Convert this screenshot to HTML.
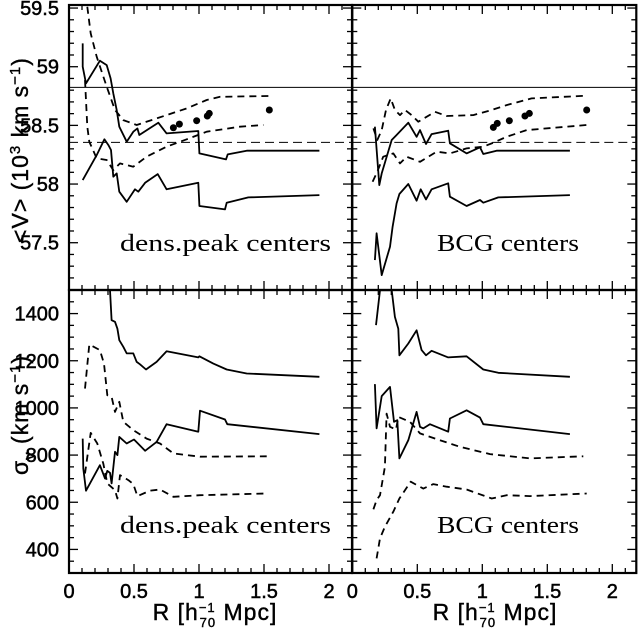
<!DOCTYPE html>
<html><head><meta charset="utf-8"><style>
body{margin:0;background:#fff}
svg{display:block;font-family:"Liberation Sans",sans-serif}
</style></head><body>
<svg id="c" width="638" height="633" viewBox="0 0 638 633"></svg>
<script>
// x positions (R) and values per series
const tlS1R=[0.105,0.105,0.131,0.238,0.29,0.32,0.341,0.367,0.387,0.444,0.495,0.526,0.541,0.687,0.751,0.995,1.003,1.208,1.221,1.367,1.926];
const tlS1V=[59.199,59.0,58.858,59.051,59.014,58.90,58.773,58.63,58.489,58.361,58.446,58.474,58.418,58.523,58.432,58.452,58.261,58.21,58.253,58.284,58.284];
const tlS2R=[0.105,0.213,0.272,0.303,0.323,0.341,0.367,0.387,0.444,0.508,0.533,0.585,0.682,0.751,0.995,1.003,1.2,1.213,1.379,1.926];
const tlS2V=[58.034,58.247,58.381,58.332,58.29,58.063,58.091,57.935,57.849,57.955,57.935,58.011,58.085,57.955,58.011,57.813,57.784,57.841,57.886,57.906];
const tlD1R=[0.141,0.167,0.213,0.29,0.354,0.418,0.521,0.751,0.905,1.059,1.162,1.546];
const tlD1V=[59.511,59.284,59.085,58.83,58.631,58.545,58.503,58.588,58.645,58.716,58.744,58.75];
const tlD2R=[0.123,0.141,0.156,0.213,0.29,0.341,0.392,0.495,0.597,0.751,0.905,1.059,1.315,1.495];
const tlD2V=[58.886,58.489,58.361,58.219,58.205,58.119,58.176,58.148,58.233,58.318,58.381,58.446,58.489,58.503];
const tlPtR=[0.803,0.849,0.982,1.064,1.079,1.541];
const tlPtV=[58.48,58.511,58.54,58.58,58.602,58.631];

const trS1R=[0.174,0.208,0.226,0.303,0.341,0.431,0.495,0.521,0.567,0.61,0.738,0.751,0.879,0.982,1.008,1.11,1.674];
const trS1V=[58.489,57.991,58.091,58.375,58.418,58.523,58.403,58.46,58.341,58.426,58.455,58.347,58.261,58.313,58.256,58.284,58.284];
const trS2R=[0.174,0.187,0.226,0.29,0.31,0.328,0.341,0.362,0.431,0.495,0.526,0.567,0.61,0.738,0.751,0.879,0.982,1.008,1.123,1.674];
const trS2V=[57.352,57.58,57.224,57.466,57.636,57.75,57.835,57.915,58.0,57.858,57.955,57.869,57.955,58.006,57.892,57.813,57.864,57.841,57.886,57.906];
const trD1R=[0.162,0.192,0.226,0.259,0.295,0.328,0.367,0.405,0.456,0.508,0.636,0.726,0.931,1.072,1.187,1.379,1.803];
const trD1V=[58.474,58.375,58.46,58.631,58.73,58.631,58.588,58.631,58.588,58.531,58.616,58.58,58.588,58.631,58.673,58.73,58.753];
const trD2R=[0.156,0.192,0.238,0.315,0.367,0.418,0.521,0.649,0.751,0.879,1.008,1.085,1.187,1.341,1.803];
const trD2V=[58.02,58.105,58.233,58.261,58.176,58.233,58.19,58.276,58.261,58.304,58.318,58.352,58.403,58.46,58.503];
const trPtR=[1.085,1.115,1.208,1.328,1.362,1.803];
const trPtV=[58.483,58.517,58.54,58.58,58.602,58.631];

const blS1R=[0.315,0.328,0.354,0.372,0.387,0.418,0.444,0.495,0.521,0.546,0.592,0.674,0.751,0.995,1.003,1.11,1.213,1.367,1.926];
const blS1V=[1499,1372,1365,1336,1287,1259,1231,1231,1195,1185,1163,1195,1240,1214,1219,1188,1163,1146,1132];
const blS2R=[0.105,0.11,0.131,0.238,0.277,0.295,0.315,0.328,0.354,0.372,0.387,0.444,0.5,0.585,0.674,0.751,0.995,1.008,1.2,1.218,1.926];
const blS2V=[870,743,649,757,701,733,725,680,814,800,877,849,866,818,856,931,899,988,951,931,889];
const blD1R=[0.123,0.156,0.238,0.269,0.295,0.328,0.354,0.387,0.418,0.495,0.597,0.7,0.803,1.008,1.521];
const blD1V=[1082,1269,1245,1188,1054,1047,983,1026,941,906,870,849,807,793,795];
const blD2R=[0.123,0.167,0.218,0.264,0.295,0.354,0.372,0.392,0.456,0.495,0.526,0.623,0.7,0.803,1.008,1.521];
const blD2V=[722,894,849,764,680,651,616,715,694,677,626,649,654,623,630,637];

const brS1R=[0.182,0.213,0.303,0.328,0.354,0.362,0.431,0.495,0.533,0.567,0.61,0.738,0.879,1.008,1.123,1.674];
const brS1V=[1351,1499,1499,1386,1336,1223,1273,1329,1245,1223,1242,1214,1219,1163,1149,1132];
const brS2R=[0.174,0.187,0.226,0.29,0.321,0.346,0.354,0.362,0.431,0.495,0.521,0.546,0.597,0.738,0.751,0.879,0.982,1.008,1.674];
const brS2V=[1101,913,1050,1089,941,948,870,786,863,983,920,913,931,899,955,990,959,931,889];
const brD1R=[0.162,0.187,0.213,0.251,0.264,0.29,0.336,0.354,0.444,0.521,0.674,0.828,1.059,1.367,1.777];
const brD1V=[570,609,630,750,976,920,908,962,941,892,863,835,804,786,795];
const brD2R=[0.187,0.213,0.251,0.315,0.362,0.449,0.546,0.623,0.726,0.879,1.072,1.187,1.367,1.803];
const brD2V=[362,447,496,560,616,687,658,677,666,654,616,630,626,637];

const topTicks=["57.5","58","58.5","59","59.5"];
const botTicks=["400","600","800","1000","1200","1400"];
const xTicks=["0","0.5","1","1.5","2"];
const meanSolid=58.824, meanDashed=58.355;

const NS="http://www.w3.org/2000/svg";
const svg=document.getElementById('c');
function mk(tag,attrs,parent){const e=document.createElementNS(NS,tag);for(const k in attrs)e.setAttribute(k,attrs[k]);(parent||svg).appendChild(e);return e;}

const X0=[69,352.3], XS=130, PW=[283,284];
const TOP={y0:5,y1:290,vmin:57.097,vmax:59.526};
const BOT={y0:290,y1:573,vmin:300,vmax:1500};
function xs(p,r){return X0[p]+r*XS;}
function ys(P,v){return P.y1-(v-P.vmin)/(P.vmax-P.vmin)*(P.y1-P.y0);}

function panel(p,P,name){
  const g=mk('g',{});
  
  
  const cp=mk('clipPath',{id:'cp'+name},g);
  mk('rect',{x:X0[p],y:P.y0,width:PW[p],height:P.y1-P.y0},cp);
  return g;
}
function line(g,P,p,R,V,dash,name,clip){
  let d='';R.forEach((r,i)=>{d+=(i?'L':'M')+xs(p,r).toFixed(1)+','+ys(P,V[i]).toFixed(1);});
  const a={d:d,fill:'none',stroke:'#000','stroke-width':1.8,'stroke-linejoin':'round','clip-path':'url(#'+clip+')'};
  if(dash)a['stroke-dasharray']='7,5';
  const e=mk('path',a,g);
  
  
}
function pts(g,P,p,R,V,name){
  R.forEach((r,i)=>{const c=mk('circle',{cx:xs(p,r),cy:ys(P,V[i]),r:3.5,fill:'#000'},g);
  
  });
}
function frame(g,P,p,isTop){
  const x0=X0[p],x1=X0[p]+PW[p];
  for(let t=0;t<=2.2001;t+=0.1){const x=xs(p,t);if(x>x1-1)break;const major=Math.abs(t*2-Math.round(t*2))<1e-6;const L=major?9:5;
    mk('line',{x1:x,x2:x,y1:P.y1,y2:P.y1-L,stroke:'#000','stroke-width':1.3},g);
    mk('line',{x1:x,x2:x,y1:P.y0,y2:P.y0+L,stroke:'#000','stroke-width':1.3},g);}
  if(isTop){for(let i=0;i<=25;i++){const v=57.1+i*0.1;const y=ys(P,v);if(y<P.y0+1)break;const major=Math.abs(v*2-Math.round(v*2))<1e-6;const L=major?9:5;
    mk('line',{x1:x0,x2:x0+L,y1:y,y2:y,stroke:'#000','stroke-width':1.3},g);mk('line',{x1:x1,x2:x1-L,y1:y,y2:y,stroke:'#000','stroke-width':1.3},g);}}
  else{for(let v=350;v<1500;v+=50){const y=ys(P,v);const L=(v%200===0)?9:5;
    mk('line',{x1:x0,x2:x0+L,y1:y,y2:y,stroke:'#000','stroke-width':1.3},g);mk('line',{x1:x1,x2:x1-L,y1:y,y2:y,stroke:'#000','stroke-width':1.3},g);}}
  mk('rect',{x:x0,y:P.y0,width:PW[p],height:P.y1-P.y0,fill:'none',stroke:'#000','stroke-width':2.2},g);
}
function label(g,x,y,txt,name,opts){
  const t=mk('text',Object.assign({x:x,y:y,'font-size':20,fill:'#000',stroke:'#000','stroke-width':0.5},opts||{}),g);t.textContent=txt;
  
  return t;
}
const serif={'font-family':'"Liberation Serif",serif','font-size':24,'stroke-width':0};

// top-left
let g=panel(0,TOP,'panel-mean-dens');
mk('line',{x1:X0[0],x2:X0[0]+PW[0],y1:ys(TOP,meanSolid),y2:ys(TOP,meanSolid),stroke:'#000','stroke-width':1},g);
mk('line',{x1:X0[0],x2:X0[0]+PW[0],y1:ys(TOP,meanDashed),y2:ys(TOP,meanDashed),stroke:'#000','stroke-width':1,'stroke-dasharray':'9,5'},g);
line(g,TOP,0,tlS1R,tlS1V,false,'upper-solid-line','cppanel-mean-dens');
line(g,TOP,0,tlS2R,tlS2V,false,'lower-solid-line','cppanel-mean-dens');
line(g,TOP,0,tlD1R,tlD1V,true,'upper-dashed-line','cppanel-mean-dens');
line(g,TOP,0,tlD2R,tlD2V,true,'lower-dashed-line','cppanel-mean-dens');
pts(g,TOP,0,tlPtR,tlPtV,'mean-point');
frame(g,TOP,0,true);
label(g,120,251,'dens.peak centers','panel-label',Object.assign({textLength:211,lengthAdjust:'spacingAndGlyphs'},serif));
// top-right
g=panel(1,TOP,'panel-mean-bcg');
mk('line',{x1:X0[1],x2:X0[1]+PW[1],y1:ys(TOP,meanSolid),y2:ys(TOP,meanSolid),stroke:'#000','stroke-width':1},g);
mk('line',{x1:X0[1],x2:X0[1]+PW[1],y1:ys(TOP,meanDashed),y2:ys(TOP,meanDashed),stroke:'#000','stroke-width':1,'stroke-dasharray':'9,5'},g);
line(g,TOP,1,trS1R,trS1V,false,'upper-solid-line','cppanel-mean-bcg');
line(g,TOP,1,trS2R,trS2V,false,'lower-solid-line','cppanel-mean-bcg');
line(g,TOP,1,trD1R,trD1V,true,'upper-dashed-line','cppanel-mean-bcg');
line(g,TOP,1,trD2R,trD2V,true,'lower-dashed-line','cppanel-mean-bcg');
pts(g,TOP,1,trPtR,trPtV,'mean-point');
frame(g,TOP,1,true);
label(g,437,251,'BCG centers','panel-label',Object.assign({textLength:142,lengthAdjust:'spacingAndGlyphs'},serif));
// bottom-left
g=panel(0,BOT,'panel-sigma-dens');
line(g,BOT,0,blS1R,blS1V,false,'upper-solid-line','cppanel-sigma-dens');
line(g,BOT,0,blS2R,blS2V,false,'lower-solid-line','cppanel-sigma-dens');
line(g,BOT,0,blD1R,blD1V,true,'upper-dashed-line','cppanel-sigma-dens');
line(g,BOT,0,blD2R,blD2V,true,'lower-dashed-line','cppanel-sigma-dens');
frame(g,BOT,0,false);
label(g,120,533,'dens.peak centers','panel-label',Object.assign({textLength:211,lengthAdjust:'spacingAndGlyphs'},serif));
// bottom-right
g=panel(1,BOT,'panel-sigma-bcg');
line(g,BOT,1,brS1R,brS1V,false,'upper-solid-line','cppanel-sigma-bcg');
line(g,BOT,1,brS2R,brS2V,false,'lower-solid-line','cppanel-sigma-bcg');
line(g,BOT,1,brD1R,brD1V,true,'upper-dashed-line','cppanel-sigma-bcg');
line(g,BOT,1,brD2R,brD2V,true,'lower-dashed-line','cppanel-sigma-bcg');
frame(g,BOT,1,false);
label(g,437,533,'BCG centers','panel-label',Object.assign({textLength:142,lengthAdjust:'spacingAndGlyphs'},serif));

// tick labels
const ax=mk('g',{});
topTicks.forEach(s=>{const y=ys(TOP,parseFloat(s));label(ax,59,y+7,s,'y-tick-label',{'text-anchor':'end','font-size':20});});
botTicks.forEach(s=>{const y=ys(BOT,parseFloat(s));label(ax,59,y+7,s,'y-tick-label',{'text-anchor':'end','font-size':20});});
[0,1].forEach(p=>xTicks.forEach(s=>{label(ax,xs(p,parseFloat(s)),598,s,'x-tick-label',{'text-anchor':'middle','font-size':20});}));
// axis titles
let t=mk('text',{x:0,y:0,'font-size':23,'text-anchor':'middle',stroke:'#000','stroke-width':0.4,'letter-spacing':1,transform:'translate(28,150) rotate(-90)'},ax);
t.innerHTML='&lt;V&gt;  (10<tspan dy="-8" font-size="15">3</tspan><tspan dy="8"> km s</tspan><tspan dy="-8" font-size="15">−1</tspan><tspan dy="8">)</tspan>';


t=mk('text',{x:0,y:0,'font-size':23,'text-anchor':'middle',stroke:'#000','stroke-width':0.4,'letter-spacing':1,transform:'translate(28,415) rotate(-90)'},ax);
t.innerHTML='σ<tspan dy="6" font-size="15">v</tspan><tspan dy="-6">  (km s</tspan><tspan dy="-8" font-size="15">−1</tspan><tspan dy="8">)</tspan>';


[215,495].forEach(cx=>{t=mk('text',{x:cx,y:620,'font-size':23,'text-anchor':'middle',stroke:'#000','stroke-width':0.4,'letter-spacing':1},ax);
t.innerHTML='R [h<tspan dy="-8" font-size="13">−1</tspan><tspan dx="-16" dy="15" font-size="13">70</tspan><tspan dy="-7"> Mpc]</tspan>';

});
</script>
</body></html>
